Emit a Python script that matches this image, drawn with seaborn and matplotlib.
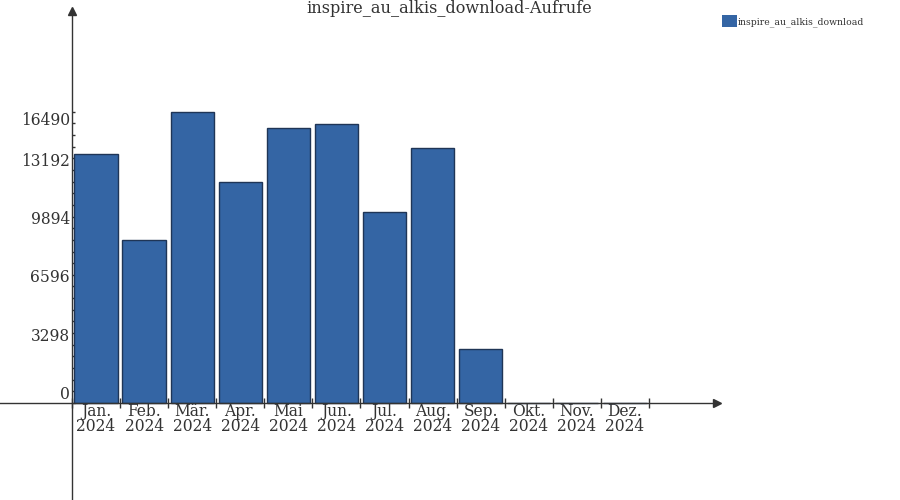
import numpy as np
import pandas as pd
import matplotlib
matplotlib.use("Agg")
import matplotlib.pyplot as plt
import seaborn as sns
from matplotlib.patches import Patch

# ---- data ----
months = ["Jan.", "Feb.", "Mär.", "Apr.", "Mai", "Jun.", "Jul.", "Aug.", "Sep.", "Okt.", "Nov.", "Dez."]
year = "2024"
calls = [14079, 9227, 16490, 12511, 15568, 15794, 10813, 14419, 3040, 0, 0, 0]
y_ticks = [0, 3298, 6596, 9894, 13192, 16490]
series_name = "inspire_au_alkis_download"
title = "inspire_au_alkis_download-Aufrufe"

# ---- style ----
sns.set_theme(style="white")
plt.rcParams["font.family"] = ["DejaVu Serif"]
text_color = "#333333"
bar_color = "#3465a4"
edge_color = "#1f3556"

W, H = 900, 500
fig = plt.figure(figsize=(W / 100, H / 100), dpi=100)
ax = fig.add_axes([0, 0, 1, 1])
ax.set_facecolor("white")

df = pd.DataFrame({"month": [f"{m}\n{year}" for m in months], "calls": calls})
sns.barplot(data=df, x="month", y="calls", color=bar_color, saturation=1,
            edgecolor=edge_color, linewidth=1, width=0.9, ax=ax)

# pixel layout helpers
x0px, y0px = 72, 403
xscale = 48.08                 # px per category slot
yscale = 291.3 / y_ticks[-1]   # px per unit


def px2x(px):
    return -0.5 + (px - x0px) / xscale


def px2y(py):
    return (y0px - py) / yscale


ax.set_xlim(px2x(0), px2x(W))
ax.set_ylim(px2y(H), px2y(0))
ax.set_xlabel("")
ax.set_ylabel("")

# spines
for s in ["top", "right"]:
    ax.spines[s].set_visible(False)
ax.spines["left"].set_position(("data", -0.5))
ax.spines["bottom"].set_position(("data", 0))
ax.spines["left"].set_bounds(px2y(H), px2y(14))
ax.spines["bottom"].set_bounds(px2x(0), px2x(714))
for s in ["left", "bottom"]:
    ax.spines[s].set_color(text_color)
    ax.spines[s].set_linewidth(1)
    ax.spines[s].set_zorder(3)

# arrows
ax.plot([-0.5], [px2y(11)], marker="^", ms=6, color=text_color, clip_on=False, zorder=4)
ax.plot([px2x(717)], [0], marker=">", ms=6, color=text_color, clip_on=False, zorder=4)

# x ticks
n = len(months)
ax.set_xticks(np.arange(n + 1) - 0.5, labels=[""] * (n + 1))
ax.set_xticks(np.arange(n), labels=df["month"], minor=True)
ax.tick_params(axis="x", which="major", direction="inout", length=7, width=1,
               color=text_color, bottom=True)
ax.tick_params(axis="x", which="minor", length=0, pad=0, labelsize=11.2,
               labelcolor=text_color, bottom=True)
for lbl in ax.get_xticklabels(minor=True):
    lbl.set_linespacing(0.88)

# y ticks
ax.set_yticks(y_ticks, labels=[str(v) for v in y_ticks])
ax.set_yticks(np.linspace(0, y_ticks[-1], 26), minor=True)
ax.tick_params(axis="y", which="both", direction="in", length=2.5, width=1,
               color=text_color, left=True)
ax.tick_params(axis="y", which="major", labelsize=11.2, labelcolor=text_color, pad=1.5)
ylabels = ax.get_yticklabels()
for lbl in ylabels[:-1]:
    lbl.set_verticalalignment("bottom")
ylabels[-1].set_verticalalignment("top")

# legend
handle = Patch(facecolor=bar_color, edgecolor="none")
leg = fig.legend(handles=[handle], labels=[series_name], loc="upper left",
                 bbox_to_anchor=(722 / W, 1 - 15 / H), frameon=False, fontsize=6.7,
                 handlelength=1.65, handleheight=1.65, handletextpad=0.05,
                 borderpad=0, borderaxespad=0)
for t in leg.get_texts():
    t.set_color(text_color)

# title
fig.text(449 / W, 1 - 8.5 / H, title, ha="center", va="center", fontsize=11.6, color=text_color)

fig.savefig("out.png", dpi=100)
